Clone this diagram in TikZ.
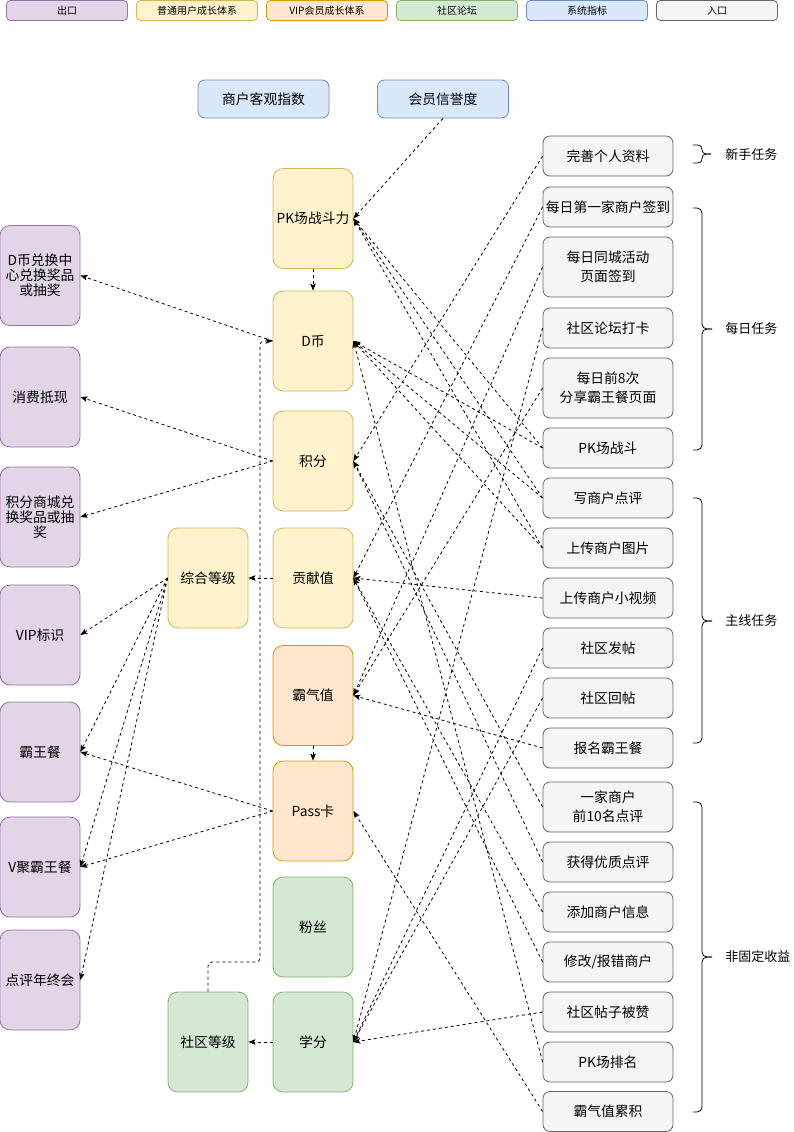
\documentclass[tikz,border=0pt]{standalone}
\usepackage{fontspec}
\setmainfont{Noto Sans CJK SC}
\usetikzlibrary{arrows.meta}

\definecolor{exitfill}{HTML}{E1D5E7}\definecolor{exitline}{HTML}{9673A6}
\definecolor{userfill}{HTML}{FFF2CC}\definecolor{userline}{HTML}{D6B656}
\definecolor{vipfill}{HTML}{FFE6CC}\definecolor{vipline}{HTML}{D79B00}
\definecolor{forumfill}{HTML}{D5E8D4}\definecolor{forumline}{HTML}{82B366}
\definecolor{sysfill}{HTML}{DAE8FC}\definecolor{sysline}{HTML}{6C8EBF}
\definecolor{taskfill}{HTML}{F5F5F5}\definecolor{taskline}{HTML}{666666}

\begin{document}
\begin{tikzpicture}
[x=1pt,y=-1pt,line width=0.8pt,%
  box/.style={draw,rounded corners=10pt,minimum width=80pt,minimum height=100pt,
    inner sep=1pt,align=center,font=\fontsize{13.8}{15}\selectfont},%
  exitbox/.style={box,fill=exitfill,draw=exitline},%
  userbox/.style={box,fill=userfill,draw=userline},%
  vipbox/.style={box,fill=vipfill,draw=vipline},%
  forumbox/.style={box,fill=forumfill,draw=forumline},%
  sysbox/.style={draw=sysline,fill=sysfill,rounded corners=7pt,minimum width=131pt,
    minimum height=38pt,font=\fontsize{13.8}{15}\selectfont},%
  taskbox/.style={draw=taskline,fill=taskfill,rounded corners=7pt,minimum width=130pt,
    minimum height=40pt,inner sep=1pt,align=center,font=\fontsize{13.8}{19}\selectfont},%
  legend/.style={draw,rounded corners=4pt,minimum width=121pt,minimum height=20pt,
    inner sep=0pt,font=\fontsize{10}{11}\selectfont},%
  group/.style={anchor=west,inner sep=0pt,font=\fontsize{13}{15}\selectfont},%
  flow/.style={dash pattern=on 3pt off 3pt,-{Stealth[length=7pt,width=5.5pt,inset=1.5pt]}},%
  bracket/.style={rounded corners=5pt}]
\useasboundingbox (0,0) rectangle (794,1132);

% legend
\node[legend,fill=exitfill,draw=exitline] (lgexit) at (67,10.5) {出口};
\node[legend,fill=userfill,draw=userline] (lguser) at (197,10.5) {普通用户成长体系};
\node[legend,fill=vipfill,draw=vipline] (lgvip) at (327,10.5) {VIP会员成长体系};
\node[legend,fill=forumfill,draw=forumline] (lgforum) at (457,10.5) {社区论坛};
\node[legend,fill=sysfill,draw=sysline] (lgsys) at (587,10.5) {系统指标};
\node[legend,fill=taskfill,draw=taskline] (lgentry) at (717,10.5) {入口};

% system indexes
\node[sysbox] (merchidx) at (263.5,99) {商户客观指数};
\node[sysbox] (trust) at (443,99) {会员信誉度};

% exits
\node[exitbox] (exch) at (40,275.5) {D币兑换中\\心兑换奖品\\或抽奖};
\node[exitbox] (cash) at (40,397) {消费抵现};
\node[exitbox] (mall) at (40,517) {积分商城兑\\换奖品或抽\\奖};
\node[exitbox] (vip) at (40,635) {VIP标识};
\node[exitbox] (freemeal) at (40,752) {霸王餐};
\node[exitbox] (vmeal) at (40,867) {V聚霸王餐};
\node[exitbox] (annual) at (40,980) {点评年终会};

% growth values
\node[userbox] (pkpower) at (313,218.5) {PK场战斗力};
\node[userbox] (dcoin) at (313,341) {D币};
\node[userbox] (points) at (313,461) {积分};
\node[userbox] (contrib) at (313,578) {贡献值};
\node[userbox] (level) at (208,578) {综合等级};
\node[vipbox] (domin) at (313,695.5) {霸气值};
\node[vipbox] (pass) at (313,811) {Pass卡};
\node[forumbox] (fans) at (313,927) {粉丝};
\node[forumbox] (credit) at (313,1042) {学分};
\node[forumbox] (commlevel) at (208,1042) {社区等级};

% entries
\node[taskbox] (profile) at (608,156) {完善个人资料};
\node[taskbox] (signin) at (608,207) {每日第一家商户签到};
\node[taskbox,minimum height=60pt] (citysign) at (608,267) {每日同城活动\\页面签到};
\node[taskbox] (forumcheck) at (608,328) {社区论坛打卡};
\node[taskbox,minimum height=60pt] (share) at (608,388) {每日前8次\\分享霸王餐页面};
\node[taskbox] (pkfight) at (608,448) {PK场战斗};
\node[taskbox] (review) at (608,498) {写商户点评};
\node[taskbox] (photo) at (608,548) {上传商户图片};
\node[taskbox] (video) at (608,598) {上传商户小视频};
\node[taskbox] (post) at (608,648) {社区发帖};
\node[taskbox] (reply) at (608,698) {社区回帖};
\node[taskbox] (signup) at (608,748) {报名霸王餐};
\node[taskbox,minimum height=50pt] (top10) at (608,807) {一家商户\\前10名点评};
\node[taskbox] (quality) at (608,862) {获得优质点评};
\node[taskbox] (addinfo) at (608,912) {添加商户信息};
\node[taskbox] (fix) at (608,962) {修改/报错商户};
\node[taskbox] (liked) at (608,1012) {社区帖子被赞};
\node[taskbox] (pkrank) at (608,1062) {PK场排名};
\node[taskbox] (domsum) at (608,1111.5) {霸气值累积};

% task groups
\draw[bracket,rounded corners=4pt] (693,145) -- (702,145) -- (702,154) -- (711,154);
\draw[bracket,rounded corners=4pt] (693,163) -- (702,163) -- (702,154) -- (711,154);
\node[group] (newbie) at (725,155) {新手任务};
\draw[bracket] (693,208) -- (702,208) -- (702,329) -- (712,329);
\draw[bracket] (693,450) -- (702,450) -- (702,329) -- (712,329);
\node[group] (daily) at (725,329) {每日任务};
\draw[bracket] (693,498) -- (702,498) -- (702,621) -- (712,621);
\draw[bracket] (693,743) -- (702,743) -- (702,621) -- (712,621);
\node[group] (mainline) at (725,621) {主线任务};
\draw[bracket] (693,802) -- (702,802) -- (702,957) -- (712,957);
\draw[bracket] (693,1112) -- (702,1112) -- (702,957) -- (712,957);
\node[group] (bonus) at (725,957) {非固定收益};

% entries to growth values
\foreach \src/\dst in {profile/points,signin/contrib,citysign/domin,forumcheck/credit,
    share/domin,pkfight/pkpower,pkfight/dcoin,review/pkpower,review/dcoin,
    photo/pkpower,photo/dcoin,video/contrib,post/credit,reply/credit,signup/domin,
    top10/points,quality/points,addinfo/contrib,fix/contrib,liked/credit,
    pkrank/dcoin,domsum/pass}
  \draw[flow] (\src.west) -- (\dst.east);
\draw[flow] (trust.south) -- (pkpower.east);
\draw[flow] (pkpower.south) -- (dcoin.north);
\draw[flow] (domin.south) -- (pass.north);

% growth values to exits
\foreach \src/\dst in {dcoin/exch,points/cash,points/mall,contrib/level,level/vip,
    level/freemeal,level/vmeal,level/annual,pass/freemeal,pass/vmeal,credit/commlevel}
  \draw[flow] (\src.west) -- (\dst.east);
\draw[flow,rounded corners=4pt] (commlevel.north) -- (208,962) -- (260,962) |- (dcoin.west);
\end{tikzpicture}
\end{document}
